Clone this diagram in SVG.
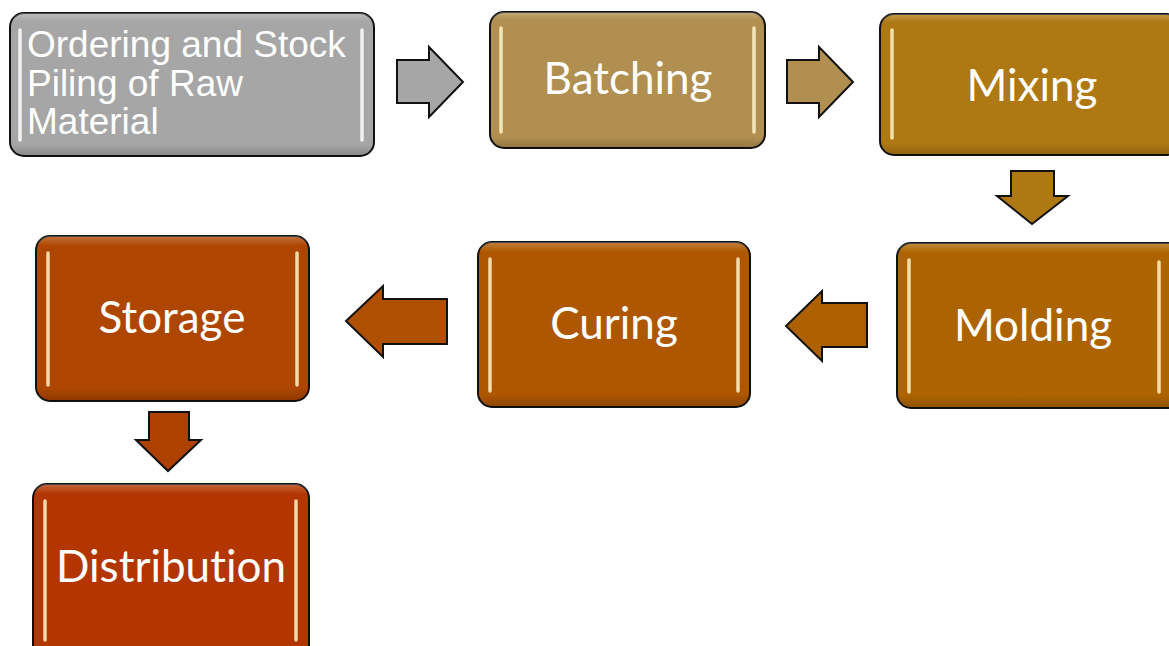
<svg xmlns="http://www.w3.org/2000/svg" width="1169" height="646" viewBox="0 0 1169 646">
<style>
.box{stroke:#111;stroke-width:2}
.hl{stroke:#fff3c8;stroke-width:3.5;stroke-linecap:round;opacity:0.85;fill:none}
.arr{stroke:#111;stroke-width:2;stroke-linejoin:miter}
.lbl{font-family:Lato,"Open Sans",sans-serif;font-size:44px;fill:#fff;text-anchor:middle;font-variant-ligatures:none}
.lbl1{font-family:"Liberation Sans",Arial,sans-serif;font-size:37px;fill:#fff}
</style>
<defs>
<linearGradient id="shade" x1="0" y1="0" x2="0" y2="1">
<stop offset="0" stop-color="#fff" stop-opacity="0.25"/>
<stop offset="0.06" stop-color="#fff" stop-opacity="0"/>
<stop offset="0.92" stop-color="#000" stop-opacity="0"/>
<stop offset="1" stop-color="#000" stop-opacity="0.18"/>
</linearGradient>
</defs>
<rect width="1169" height="646" fill="#fff"/>

<g id="n-ordering">
<rect class="box" x="10" y="13" width="364" height="143" rx="14" fill="#a6a6a6"/>
<rect x="10" y="13" width="364" height="143" rx="14" fill="url(#shade)"/>
<line class="hl" x1="20" y1="30" x2="20" y2="140" style="stroke:#fff"/>
<line class="hl" x1="362" y1="30" x2="362" y2="140" style="stroke:#fff"/>
<text class="lbl1" x="27" y="57">Ordering and Stock</text>
<text class="lbl1" x="27" y="96">Piling of Raw</text>
<text class="lbl1" x="27" y="134">Material</text>
</g>

<g id="n-batching">
<rect class="box" x="490" y="12" width="275" height="136" rx="14" fill="#b08f50"/>
<rect x="490" y="12" width="275" height="136" rx="14" fill="url(#shade)"/>
<line class="hl" x1="501" y1="28" x2="501" y2="132"/>
<line class="hl" x1="754" y1="28" x2="754" y2="132"/>
<text class="lbl" x="628" y="94">Batching</text>
</g>

<g id="n-mixing">
<rect class="box" x="880" y="14" width="300" height="141" rx="14" fill="#ae7812"/>
<rect x="880" y="14" width="300" height="141" rx="14" fill="url(#shade)"/>
<line class="hl" x1="892" y1="30" x2="892" y2="138"/>
<text class="lbl" x="1032" y="101">Mixing</text>
</g>

<g id="n-molding">
<rect class="box" x="897" y="243" width="290" height="165" rx="14" fill="#ad6400"/>
<rect x="897" y="243" width="290" height="165" rx="14" fill="url(#shade)"/>
<line class="hl" x1="909" y1="260" x2="909" y2="392"/>
<line class="hl" x1="1159" y1="262" x2="1159" y2="392"/>
<text class="lbl" x="1033" y="341">Molding</text>
</g>

<g id="n-curing">
<rect class="box" x="478" y="242" width="272" height="165" rx="14" fill="#ae5700"/>
<rect x="478" y="242" width="272" height="165" rx="14" fill="url(#shade)"/>
<line class="hl" x1="490" y1="259" x2="490" y2="391"/>
<line class="hl" x1="738" y1="259" x2="738" y2="391"/>
<text class="lbl" x="614" y="339">Curing</text>
</g>

<g id="n-storage">
<rect class="box" x="36" y="236" width="273" height="165" rx="14" fill="#ae4600"/>
<rect x="36" y="236" width="273" height="165" rx="14" fill="url(#shade)"/>
<line class="hl" x1="48" y1="253" x2="48" y2="385"/>
<line class="hl" x1="297" y1="253" x2="297" y2="385"/>
<text class="lbl" x="172" y="333">Storage</text>
</g>

<g id="n-distribution">
<rect class="box" x="33" y="484" width="276" height="175" rx="14" fill="#b33600"/>
<rect x="33" y="484" width="276" height="175" rx="14" fill="url(#shade)"/>
<line class="hl" x1="45" y1="501" x2="45" y2="640"/>
<line class="hl" x1="296" y1="501" x2="296" y2="640"/>
<text class="lbl" x="171" y="582">Distribution</text>
</g>

<g id="connectors">
<path class="arr" fill="#a6a6a6" d="M397,60 H429 V47 L463,82 L429,117 V103 H397 Z"/>
<path class="arr" fill="#b08f50" d="M787,60 H819 V47 L853,82 L819,117 V103 H787 Z"/>
<path class="arr" fill="#ae7812" d="M1011,171 H1054 V196 H1068 L1032,224 L997,196 H1011 Z"/>
<path class="arr" fill="#ad6000" d="M867,303 H822 V291 L786,326 L822,361 V347 H867 Z"/>
<path class="arr" fill="#ae5000" d="M447,299 H383 V286 L346,321 L383,357 V344 H447 Z"/>
<path class="arr" fill="#ae4000" d="M149,412 H189 V440 H201 L168,471 L136,440 H149 Z"/>
</g>
</svg>
